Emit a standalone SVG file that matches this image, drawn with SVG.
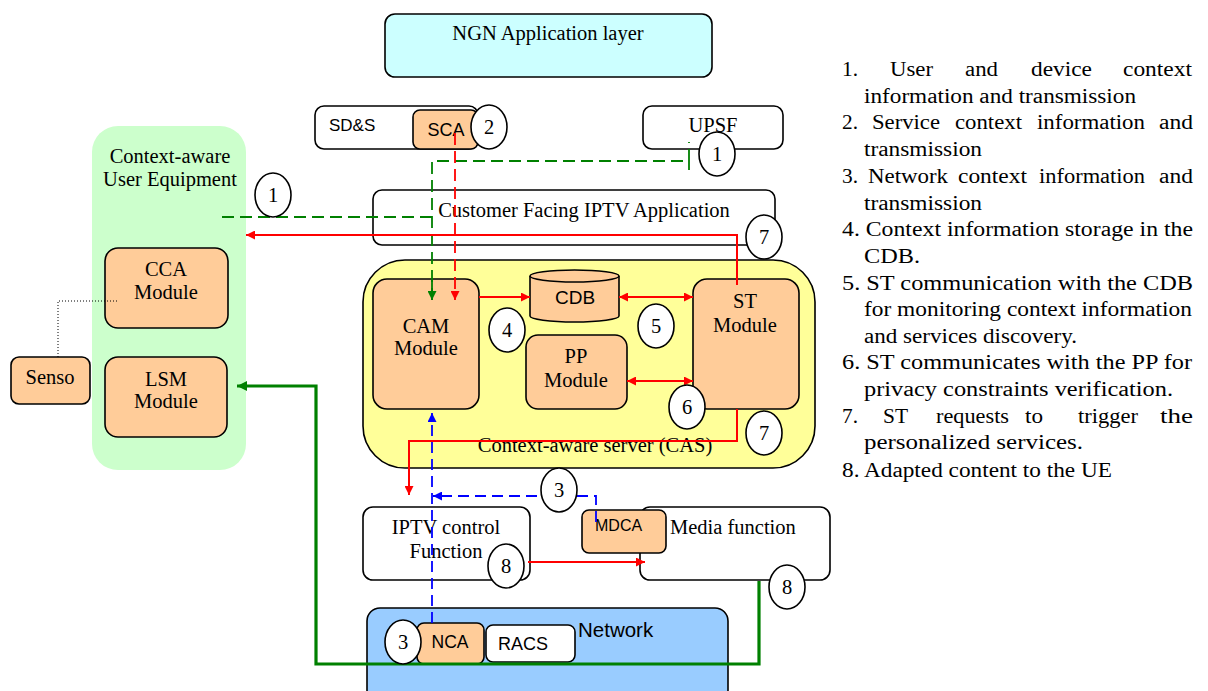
<svg xmlns="http://www.w3.org/2000/svg" width="1208" height="691" viewBox="0 0 1208 691">
<style>
.box{stroke:#000;stroke-width:1.6}
.w{fill:#fff}
.org{fill:#ffcc99}
.t{font-family:"Liberation Serif",serif;font-size:20.5px;fill:#000}
.a{font-family:"Liberation Sans",sans-serif;fill:#000}
.c{text-anchor:middle}
.num{fill:#fff;stroke:#000;stroke-width:1.6}
.lg{font-family:"Liberation Serif",serif;font-size:20px;fill:#000}
.red{stroke:#ff0000;stroke-width:2;fill:none}
.redd{stroke:#ff0000;stroke-width:1.8;fill:none;stroke-dasharray:12 6}
.grd{stroke:#008000;stroke-width:1.8;fill:none;stroke-dasharray:12 6}
.blu{stroke:#0000ff;stroke-width:1.8;fill:none;stroke-dasharray:11 6}
.grt{stroke:#008000;stroke-width:3.2;fill:none}
</style>
<defs>
<marker id="ar" viewBox="0 0 10 10" refX="10" refY="5" markerWidth="11" markerHeight="9" markerUnits="userSpaceOnUse" orient="auto-start-reverse"><path d="M0,0 L10,5 L0,10 Z" fill="#ff0000"/></marker>
<marker id="ag" viewBox="0 0 10 10" refX="10" refY="5" markerWidth="11" markerHeight="9" markerUnits="userSpaceOnUse" orient="auto"><path d="M0,0 L10,5 L0,10 Z" fill="#008000"/></marker>
<marker id="agt" viewBox="0 0 10 10" refX="10" refY="5" markerWidth="12" markerHeight="10" markerUnits="userSpaceOnUse" orient="auto"><path d="M0,0 L10,5 L0,10 Z" fill="#008000"/></marker>
<marker id="ab" viewBox="0 0 10 10" refX="10" refY="5" markerWidth="11" markerHeight="9" markerUnits="userSpaceOnUse" orient="auto"><path d="M0,0 L10,5 L0,10 Z" fill="#0000ff"/></marker>
</defs>

<g id="ue-container">
<rect x="92" y="126" width="154" height="344" rx="26" fill="#ccffcc"/>
<text class="t c" x="170" y="163">Context-aware</text>
<text class="t c" x="170" y="186">User Equipment</text>
</g>
<g id="ngn"><rect class="box" x="385" y="14" width="327" height="63" rx="10" fill="#ccffff"/>
<text class="t c" x="548" y="40">NGN Application layer</text></g>
<g id="sds"><rect class="box w" x="315" y="106" width="163" height="43" rx="9"/>
<text class="a" x="329" y="131" font-size="17">SD&amp;S</text></g>
<g id="sca"><rect class="box org" x="413" y="110" width="65" height="39" rx="7"/>
<text class="a c" x="446" y="136" font-size="18">SCA</text></g>
<g id="upsf"><rect class="box w" x="643" y="106" width="140" height="43" rx="9"/>
<text class="t c" x="713" y="132">UPSF</text></g>
<g id="cfia"><rect class="box w" x="373" y="190" width="402" height="55" rx="9"/>
<text class="t c" x="584" y="217">Customer Facing IPTV Application</text></g>
<g id="cca"><rect class="box org" x="105" y="248" width="123" height="80" rx="13"/>
<text class="t c" x="166" y="276">CCA</text><text class="t c" x="166" y="299">Module</text></g>
<g id="lsm"><rect class="box org" x="105" y="357" width="122" height="80" rx="13"/>
<text class="t c" x="166" y="386">LSM</text><text class="t c" x="166" y="408">Module</text></g>
<g id="senso"><rect class="box org" x="11" y="357" width="79" height="47" rx="8"/>
<text class="t c" x="50" y="384">Senso</text></g>
<g id="cas"><rect class="box" x="363" y="260" width="452" height="208" rx="42" fill="#ffff99"/>
<text class="t c" x="595" y="452">Context-aware server (CAS)</text></g>
<g id="cam"><rect class="box org" x="373" y="279" width="106" height="130" rx="14"/>
<text class="t c" x="426" y="333">CAM</text><text class="t c" x="426" y="355">Module</text></g>
<g id="cdb"><path class="box org" d="M530,276 V316 A44.5,6 0 0 0 619,316 V276 A44.5,6 0 0 0 530,276 Z"/>
<path class="box" fill="none" d="M530,276 A44.5,6 0 0 0 619,276"/>
<text class="a c" x="575" y="304" font-size="19">CDB</text></g>
<g id="pp"><rect class="box org" x="526" y="335" width="101" height="74" rx="12"/>
<text class="t c" x="576" y="363">PP</text><text class="t c" x="576" y="387">Module</text></g>
<g id="st"><rect class="box org" x="693" y="279" width="106" height="130" rx="14"/>
<text class="t c" x="745" y="308">ST</text><text class="t c" x="745" y="332">Module</text></g>
<g id="iptvc"><rect class="box w" x="363" y="507" width="167" height="73" rx="10"/>
<text class="t c" x="446" y="534">IPTV control</text><text class="t c" x="446" y="558">Function</text></g>
<g id="media"><rect class="box w" x="640" y="507" width="190" height="73" rx="10"/>
<text class="t" x="670" y="534">Media function</text></g>
<g id="mdca"><rect class="box org" x="582" y="510" width="84" height="43" rx="7"/>
<text class="a" x="595" y="531" font-size="16">MDCA</text></g>
<g id="network"><rect class="box" x="367" y="608" width="361" height="95" rx="13" fill="#99ccff"/>
<text class="a" x="578" y="637" font-size="20.5">Network</text></g>
<g id="nca"><rect class="box org" x="417" y="623" width="67" height="41" rx="7"/>
<text class="a c" x="450" y="648" font-size="17.5">NCA</text></g>
<g id="racs"><rect class="box w" x="486" y="625" width="89" height="37" rx="7"/>
<text class="a c" x="523" y="650" font-size="18">RACS</text></g>

<g id="connectors">
<path d="M58,357 V301 H118" stroke="#000" stroke-width="1" stroke-dasharray="1 2" fill="none"/>
<path class="grd" d="M222,217 H432"/>
<path class="grd" d="M432,300 V161 H689 V142"/>
<path class="grd" d="M689,161 V170"/>
<path class="grd" d="M432,280 V300" marker-end="url(#ag)"/>
<path class="redd" d="M455,133 V300" marker-end="url(#ar)"/>
<path class="red" d="M737,285 V235 H246" marker-end="url(#ar)"/>
<path class="red" d="M479,297 H530" marker-end="url(#ar)"/>
<path class="red" d="M619,297 H693" marker-start="url(#ar)" marker-end="url(#ar)"/>
<path class="red" d="M627,381 H693" marker-start="url(#ar)" marker-end="url(#ar)"/>
<path class="red" d="M737,409 V441 H409 V495" marker-end="url(#ar)"/>
<path class="red" d="M528,562 H645" marker-end="url(#ar)"/>
<path class="blu" d="M432,623 V413" marker-end="url(#ab)"/>
<path class="blu" d="M596,522 V496 H433" marker-end="url(#ab)"/>
<path class="grt" d="M759,581 V664 H316 V386 H237" marker-end="url(#agt)"/>
</g>

<g id="num-2"><ellipse class="num" cx="489" cy="127" rx="18" ry="22"/><text class="t c" x="489" y="134">2</text></g>
<g id="num-1a"><ellipse class="num" cx="717" cy="154" rx="18" ry="22"/><text class="t c" x="717" y="161">1</text></g>
<g id="num-1b"><ellipse class="num" cx="273" cy="195" rx="18" ry="22"/><text class="t c" x="273" y="202">1</text></g>
<g id="num-7a"><ellipse class="num" cx="764" cy="237" rx="18" ry="22"/><text class="t c" x="764" y="244">7</text></g>
<g id="num-4"><ellipse class="num" cx="507" cy="330" rx="18" ry="22"/><text class="t c" x="507" y="337">4</text></g>
<g id="num-5"><ellipse class="num" cx="656" cy="326" rx="18" ry="22"/><text class="t c" x="656" y="333">5</text></g>
<g id="num-6"><ellipse class="num" cx="687" cy="407" rx="18" ry="22"/><text class="t c" x="687" y="414">6</text></g>
<g id="num-7b"><ellipse class="num" cx="764" cy="433" rx="18" ry="22"/><text class="t c" x="764" y="440">7</text></g>
<g id="num-3a"><ellipse class="num" cx="559" cy="490" rx="18" ry="22"/><text class="t c" x="559" y="497">3</text></g>
<g id="num-8a"><ellipse class="num" cx="506" cy="566" rx="18" ry="22"/><text class="t c" x="506" y="573">8</text></g>
<g id="num-8b"><ellipse class="num" cx="787" cy="587" rx="18" ry="22"/><text class="t c" x="787" y="594">8</text></g>
<g id="num-3b"><ellipse class="num" cx="403" cy="642" rx="18" ry="22"/><text class="t c" x="403" y="649">3</text></g>

<g id="legend">
<text class="lg" x="842" y="76" textLength="16" lengthAdjust="spacingAndGlyphs">1.</text>
<text class="lg" x="890" y="76" textLength="43" lengthAdjust="spacingAndGlyphs">User</text>
<text class="lg" x="965" y="76" textLength="33" lengthAdjust="spacingAndGlyphs">and</text>
<text class="lg" x="1031" y="76" textLength="61" lengthAdjust="spacingAndGlyphs">device</text>
<text class="lg" x="1123" y="76" textLength="69" lengthAdjust="spacingAndGlyphs">context</text>
<text class="lg" x="864" y="103" textLength="272" lengthAdjust="spacingAndGlyphs">information and transmission</text>
<text class="lg" x="842" y="129" textLength="16" lengthAdjust="spacingAndGlyphs">2.</text>
<text class="lg" x="872" y="129" textLength="68" lengthAdjust="spacingAndGlyphs">Service</text>
<text class="lg" x="955" y="129" textLength="67" lengthAdjust="spacingAndGlyphs">context</text>
<text class="lg" x="1037" y="129" textLength="108" lengthAdjust="spacingAndGlyphs">information</text>
<text class="lg" x="1159" y="129" textLength="34" lengthAdjust="spacingAndGlyphs">and</text>
<text class="lg" x="864" y="156" textLength="118" lengthAdjust="spacingAndGlyphs">transmission</text>
<text class="lg" x="842" y="183" textLength="16" lengthAdjust="spacingAndGlyphs">3.</text>
<text class="lg" x="868" y="183" textLength="80" lengthAdjust="spacingAndGlyphs">Network</text>
<text class="lg" x="958" y="183" textLength="69" lengthAdjust="spacingAndGlyphs">context</text>
<text class="lg" x="1039" y="183" textLength="106" lengthAdjust="spacingAndGlyphs">information</text>
<text class="lg" x="1159" y="183" textLength="34" lengthAdjust="spacingAndGlyphs">and</text>
<text class="lg" x="864" y="210" textLength="118" lengthAdjust="spacingAndGlyphs">transmission</text>
<text class="lg" x="842" y="236" textLength="351" lengthAdjust="spacingAndGlyphs">4. Context information storage in the</text>
<text class="lg" x="864" y="263" textLength="56" lengthAdjust="spacingAndGlyphs">CDB.</text>
<text class="lg" x="842" y="290" textLength="351" lengthAdjust="spacingAndGlyphs">5. ST communication with the CDB</text>
<text class="lg" x="864" y="316" textLength="328" lengthAdjust="spacingAndGlyphs">for monitoring context information</text>
<text class="lg" x="864" y="343" textLength="213" lengthAdjust="spacingAndGlyphs">and services discovery.</text>
<text class="lg" x="842" y="369" textLength="350" lengthAdjust="spacingAndGlyphs">6. ST communicates with the PP for</text>
<text class="lg" x="864" y="396" textLength="309" lengthAdjust="spacingAndGlyphs">privacy constraints verification.</text>
<text class="lg" x="842" y="423" textLength="16" lengthAdjust="spacingAndGlyphs">7.</text>
<text class="lg" x="883" y="423" textLength="25" lengthAdjust="spacingAndGlyphs">ST</text>
<text class="lg" x="936" y="423" textLength="73" lengthAdjust="spacingAndGlyphs">requests</text>
<text class="lg" x="1025" y="423" textLength="18" lengthAdjust="spacingAndGlyphs">to</text>
<text class="lg" x="1078" y="423" textLength="60" lengthAdjust="spacingAndGlyphs">trigger</text>
<text class="lg" x="1160" y="423" textLength="33" lengthAdjust="spacingAndGlyphs">the</text>
<text class="lg" x="864" y="449" textLength="219" lengthAdjust="spacingAndGlyphs">personalized services.</text>
<text class="lg" x="842" y="477" textLength="270" lengthAdjust="spacingAndGlyphs">8. Adapted content to the UE</text>
</g>
</svg>
